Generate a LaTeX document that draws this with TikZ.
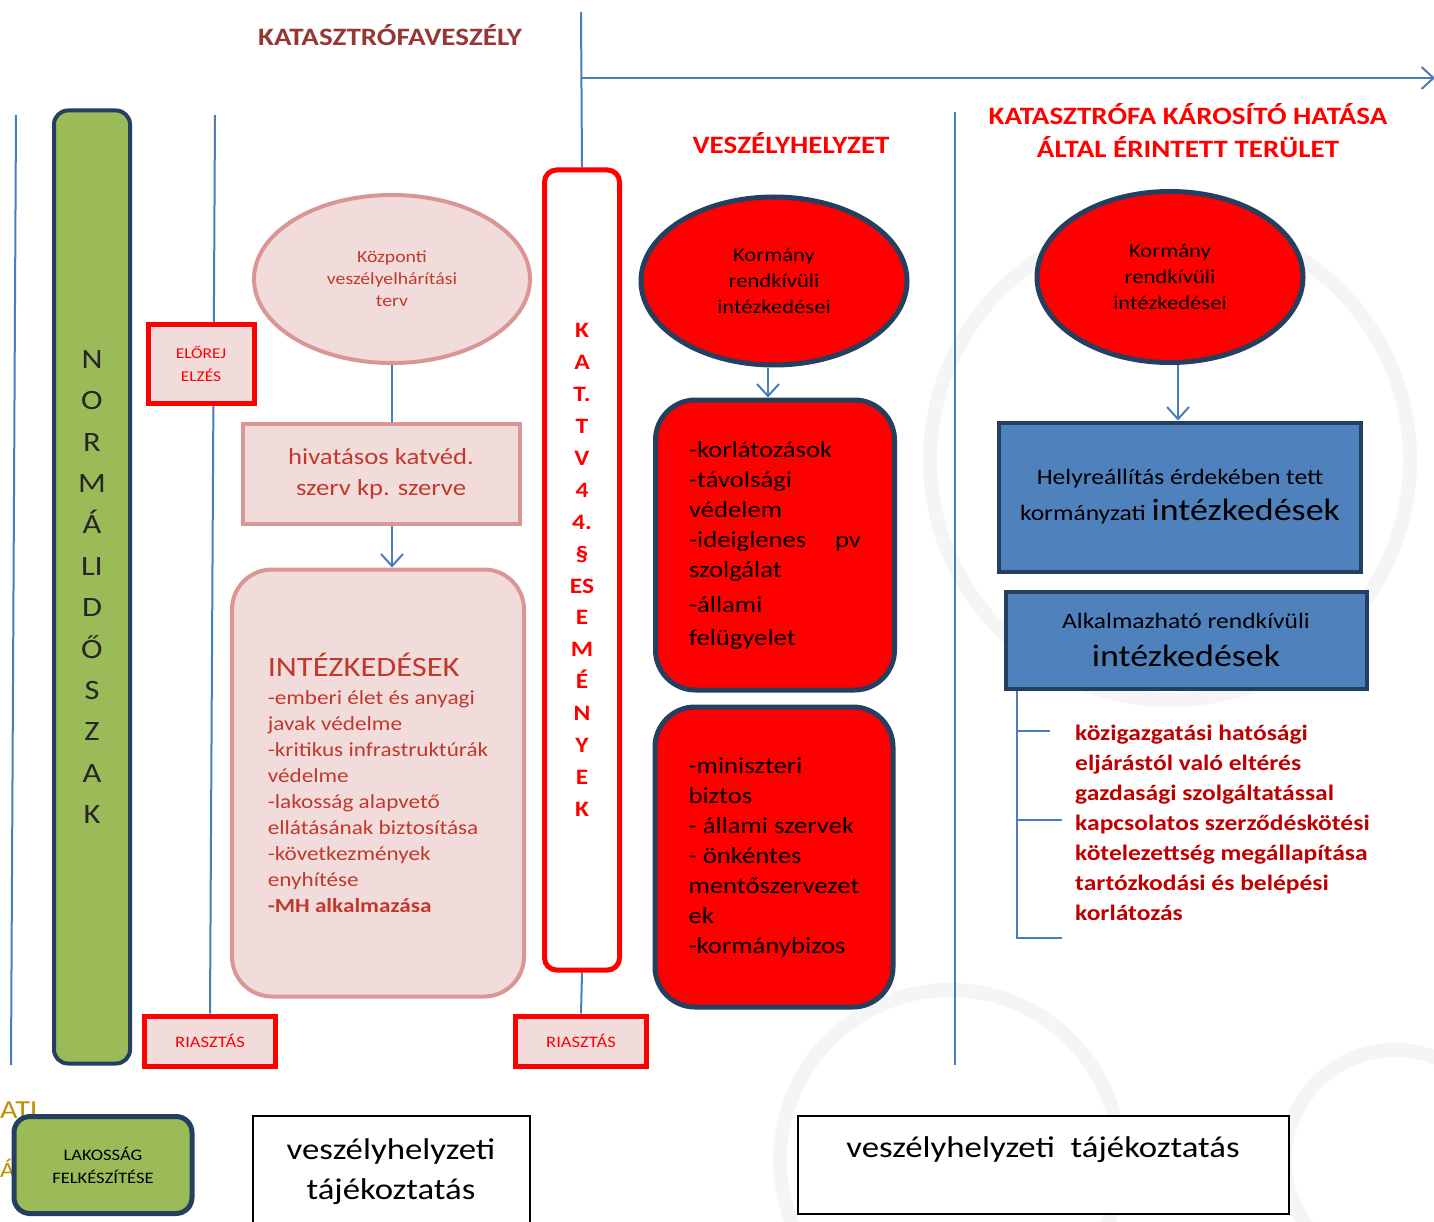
\documentclass[tikz,border=0pt]{standalone}
\usepackage{fontspec}
\setmainfont{Carlito}[FakeStretch=1.16]
\usetikzlibrary{shapes.geometric,arrows.meta}
\definecolor{lblue}{HTML}{4A7EBB}
\definecolor{navy}{HTML}{243F60}
\definecolor{grn}{HTML}{9BBB59}
\definecolor{pnk}{HTML}{F2DCDB}
\definecolor{pnkb}{HTML}{D99694}
\definecolor{dred}{HTML}{C0392B}
\definecolor{brn}{HTML}{953735}
\definecolor{bred}{HTML}{C00000}
\definecolor{gold}{HTML}{BF9000}
\definecolor{bbox}{HTML}{4F81BD}
\pgfdeclarelayer{bg}
\pgfdeclarelayer{lines}
\pgfsetlayers{bg,lines,main}
\newcommand{\fs}[2]{\fontsize{#1}{#2}\selectfont}
\begin{document}
\begin{tikzpicture}[x=1pt,y=-1pt,
  conn/.style={draw=lblue, line width=2pt},
  arr/.style={conn, -{Straight Barb[length=12pt,width=22pt]}},
  redbox/.style={draw=red, line width=5pt, fill=pnk, text=red, align=center, font=\fs{15}{23}},
  pinkbox/.style={draw=pnkb, line width=4pt, fill=pnk, text=dred, align=center},
  navyshape/.style={draw=navy, line width=5pt, fill=red, text=black},
  bluebox/.style={draw=navy, line width=4pt, fill=bbox, text=black, align=center},
  wbox/.style={draw=black, line width=2pt, fill=white},
  ttl/.style={font=\bfseries\fs{25}{33}, align=center},
  wmark/.style={draw=black!4, line width=14pt}
]
\useasboundingbox (0,0) rectangle (1434,1222);
\begin{pgfonlayer}{bg}
\fill[white] (0,0) rectangle (1434,1222);
\draw[wmark] (1170,460) circle (240pt);
\draw[wmark] (950,1160) circle (170pt);
\draw[wmark] (1395,1160) circle (110pt);
\end{pgfonlayer}

% titles
\node[ttl, font=\bfseries\fs{25}{30}, text=brn] (t1) at (390,35) {KATASZTRÓFAVESZÉLY};
\node[ttl, text=red] (t2) at (791,143) {VESZÉLYHELYZET};
\node[ttl, text=red] (t3) at (1188,131) {KATASZTRÓFA KÁROSÍTÓ HATÁSA\\ÁLTAL ÉRINTETT TERÜLET};

% normal period
\node[draw=navy, line width=4pt, fill=grn, rounded corners=14pt, minimum width=76pt, minimum height=953pt,
  align=center, font=\fs{28}{41.4}, text=black!85] (norm) at (92,587)
  {N\\O\\R\\M\\Á\\LI\\D\\Ő\\S\\Z\\A\\K};

\node[redbox, minimum width=106pt, minimum height=79pt] (elo) at (201,364) {ELŐREJ\\ELZÉS};

\node[pinkbox, ellipse, minimum width=276pt, minimum height=168pt, inner sep=0pt, font=\fs{17}{22}] (kp) at (392,279)
  {Központi\\veszélyelhárítási\\terv};
\node[pinkbox, minimum width=277pt, minimum height=100pt, font=\fs{23}{31}, text depth=3pt] (hiv) at (381,474)
  {hivatásos katvéd.\\szerv kp. szerve};
\node[pinkbox, rounded corners=40pt, minimum width=292pt, minimum height=427pt, align=left, font=\fs{20}{26}] (intez) at (378,783)
  {{\fs{28}{34}INTÉZKEDÉSEK}\\[2pt]-emberi élet és anyagi\\javak védelme\\-kritikus infrastruktúrák\\védelme\\-lakosság alapvető\\ellátásának biztosítása\\-következmények\\enyhítése\\\textbf{-MH alkalmazása}};

\node[draw=red, line width=5pt, fill=white, rounded corners=12pt, minimum width=75pt, minimum height=800pt,
  text=red, align=center, font=\bfseries\fs{22}{31.9}] (kat) at (582,570)
  {K\\A\\T.\\T\\V\\4\\4.\\§\\ES\\E\\M\\É\\N\\Y\\E\\K};

\node[redbox, minimum width=131pt, minimum height=50pt, font=\fs{16}{20}] (riasz1) at (210,1041) {RIASZTÁS};
\node[redbox, minimum width=131pt, minimum height=50pt, font=\fs{16}{20}] (riasz2) at (581,1041) {RIASZTÁS};

% veszélyhelyzet column
\node[navyshape, ellipse, minimum width=266pt, minimum height=168pt, inner sep=0pt, align=center, font=\fs{19.5}{26}] (k1) at (774,281)
  {Kormány\\rendkívüli\\intézkedései};
\node[navyshape, rounded corners=40pt, minimum width=239pt, minimum height=290pt, align=left, font=\fs{23}{30}] (rb1) at (775,545)
  {-korlátozások\\-távolsági\\védelem\\\hbox to 172pt{-ideiglenes\hfil pv}\\szolgálat\\[5pt]-állami\\[3pt]felügyelet};
\node[navyshape, rounded corners=40pt, minimum width=238pt, minimum height=300pt, align=left, font=\fs{23}{30}] (rb2) at (774,857)
  {-miniszteri\\biztos\\- állami szervek\\- önkéntes\\mentőszervezet\\ek\\-kormánybizos};

% right column
\node[navyshape, ellipse, minimum width=266pt, minimum height=171pt, inner sep=0pt, align=center, font=\fs{19.5}{26}] (k2) at (1170,277)
  {Kormány\\rendkívüli\\intézkedései};
\node[bluebox, minimum width=362pt, minimum height=149pt, font=\fs{22}{36}] (bb1) at (1180,497)
  {Helyreállítás érdekében tett\\kormányzati {\fs{31}{36}intézkedések}};
\node[bluebox, minimum width=361pt, minimum height=97pt, font=\fs{22}{38}] (bb2) at (1186,640)
  {Alkalmazható rendkívüli\\{\fs{31}{36}intézkedések}};
\node[anchor=west, align=left, text=bred, font=\bfseries\fs{22}{30}, inner sep=0pt] (list) at (1075,823)
  {közigazgatási hatósági\\eljárástól való eltérés\\gazdasági szolgáltatással\\kapcsolatos szerződéskötési\\kötelezettség megállapítása\\tartózkodási és belépési\\korlátozás};

% bottom
\node[anchor=west, text=gold, font=\fs{26}{30}, inner sep=0pt] (ati) at (0,1110) {ATI};
\node[anchor=west, text=gold, font=\fs{22}{26}, inner sep=0pt] (aa) at (0,1168) {Á};
\node[draw=navy, line width=5pt, fill=grn, rounded corners=16pt, minimum width=178pt, minimum height=97pt,
  align=center, font=\fs{16}{23}, text=black] (lak) at (103,1165) {LAKOSSÁG\\FELKÉSZÍTÉSE};
\node[wbox, minimum width=277pt, minimum height=134pt] (vt1) at (391.5,1183) {};
\node[align=center, font=\fs{30}{40}] (vt1t) at (391,1172) {veszélyhelyzeti\\tájékoztatás};
\node[wbox, minimum width=491pt, minimum height=98pt] (vt2) at (1043.5,1165) {};
\node[font=\fs{30}{40}] (vt2t) at (1043,1150) {veszélyhelyzeti\ \ tájékoztatás};

% connectors
\begin{pgfonlayer}{lines}
\coordinate (l1t) at (16,115);
\coordinate (l1b) at (11,1065);
\draw[conn] (l1t) -- (l1b);
\coordinate (l2t) at (215,115);
\draw[conn] (l2t) -- (riasz1.north);
\coordinate (ktop) at (581,12);
\draw[conn] (ktop) -- (kat.north);
\draw[conn] (kat.south) -- (riasz2.north);
\coordinate (hs) at (581,78);
\coordinate (he) at (1435,78);
\draw[arr] (hs) -- (he);
\coordinate (l3t) at (955,112);
\coordinate (l3b) at (955,1065);
\draw[conn] (l3t) -- (l3b);
\draw[conn] (kp.south) -- (kp.south |- hiv.north);
\draw[arr] (kp.south |- hiv.south) -- (kp.south |- intez.north);
\draw[arr] ([xshift=-6pt]k1.south) -- ([xshift=-6pt]k1.south |- rb1.north);
\draw[arr] ([xshift=8pt]k2.south) -- ([xshift=8pt]k2.south |- bb1.north);
\coordinate (b0) at (1017,690);
\coordinate (b1) at (1017,731);
\coordinate (b2) at (1017,820);
\coordinate (b3) at (1017,938);
\draw[conn] (b0) -- (b3) -- ++(45,0);
\draw[conn] (b1) -- ++(33,0);
\draw[conn] (b2) -- ++(45,0);
\end{pgfonlayer}
\end{tikzpicture}
\end{document}
